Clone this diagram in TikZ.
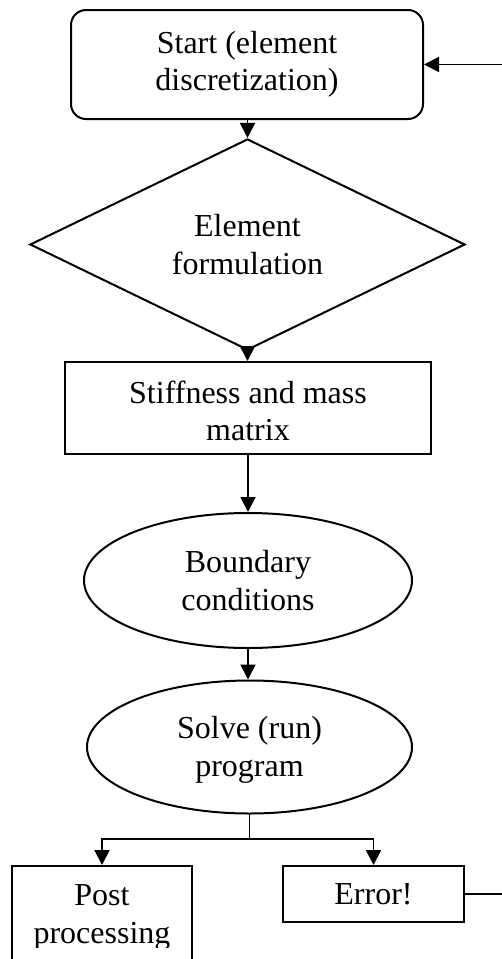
\documentclass[tikz,border=0pt]{standalone}
\usepackage{fontspec}
\setmainfont{Liberation Serif}
\usetikzlibrary{shapes.geometric,arrows.meta}

\tikzset{
  base/.style={draw=black, line width=2pt, inner sep=0pt, align=center,
               font=\fontsize{32}{37.5}\selectfont},
  startbox/.style={base, rectangle, rounded corners=15pt,
                   minimum width=352pt, minimum height=109pt},
  decision/.style={base, diamond, minimum width=435pt, minimum height=187pt},
  procbox/.style={base, rectangle},
  roundbox/.style={base, ellipse},
  plaintext/.style={inner sep=0pt, align=center,
                    font=\fontsize{32}{37.5}\selectfont},
  arr/.style={line width=1.9pt, -{Triangle[length=15pt,width=15pt]}},
  link/.style={line width=1.9pt}
}

\begin{document}
\begin{tikzpicture}[x=1pt, y=-1pt]
  \useasboundingbox (0,0) rectangle (502,959);

  % main column
  \node[startbox] (start) at (247,64.5) {Start (element\\discretization)};
  \node[decision] (form) at (247.5,244.5) {Element\\formulation};
  \node[procbox, minimum width=366pt, minimum height=92pt] (stiff) at (248,408) {};
  \node[plaintext] (stifftext) at (248,411) {Stiffness and mass\\matrix};
  \node[roundbox, minimum width=328pt, minimum height=135pt] (bound) at (248,580.5)
       {Boundary\\conditions};
  \node[roundbox, minimum width=325pt, minimum height=133pt] (solve) at (249.5,747) {};
  \node[plaintext] (solvetext) at (249.5,750) {Solve (run)\\program};

  % outcome boxes
  \node[procbox, minimum width=180pt, minimum height=124pt] (post) at (102,928) {};
  \begin{scope}
    \clip (0,0) rectangle (502,947);
    \node[plaintext] (posttext) at (102,917.5) {Post\\processing};
  \end{scope}
  \node[procbox, minimum width=181pt, minimum height=56pt] (err) at (373.5,894) {Error!};

  % connectors
  \draw[arr] (start.south -| form.north) -- (form.north);
  \draw[arr] (form.south) -- (form.south |- stiff.north);
  \draw[arr] (bound.north |- stiff.south) -- (bound.north);
  \draw[arr] (bound.south) -- (bound.south |- solve.north);

  \coordinate (split) at (249.5,839);
  \draw[link] (solve.south) -- (split);
  \draw[arr] (split) -| (post.north);
  \draw[arr] (split) -| (err.north);

  % feedback from the error box back to the start
  \coordinate (rback) at (504,894);
  \draw[arr] (err.east) -- (rback) |- (start.east);
\end{tikzpicture}
\end{document}
